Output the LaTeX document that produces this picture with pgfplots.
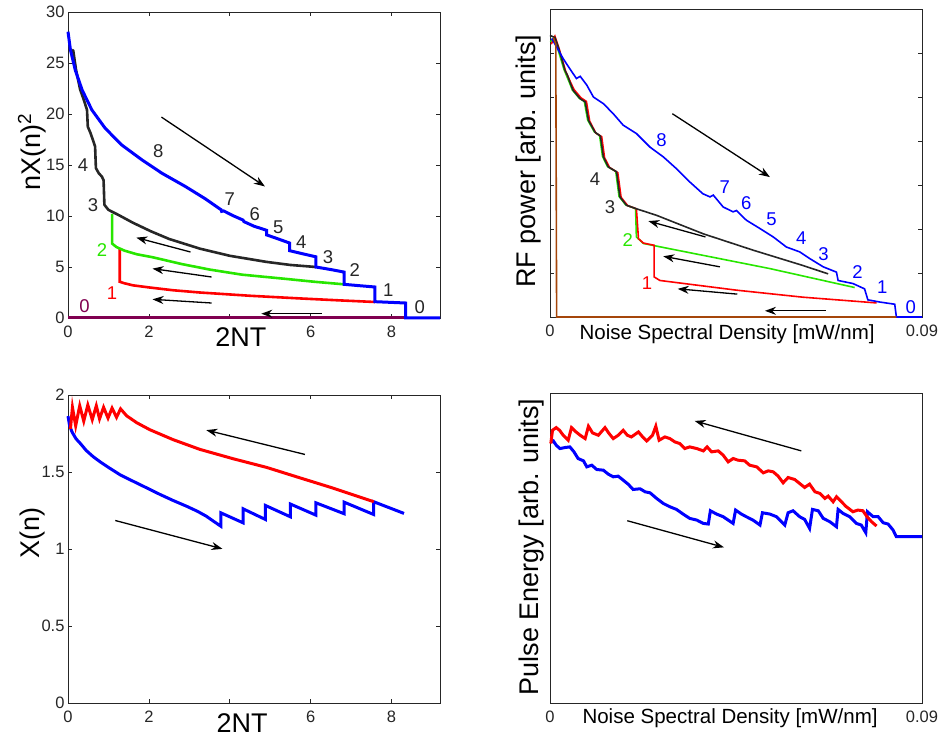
\documentclass[border=0pt]{standalone}
\usepackage{fontspec}
\setmainfont{Liberation Sans}
\usepackage{pgfplots}
\pgfplotsset{compat=1.18}
\usetikzlibrary{arrows.meta}

\definecolor{cBlue}{RGB}{0,0,255}
\definecolor{cRed}{RGB}{255,0,0}
\definecolor{cGreen}{RGB}{40,230,0}
\definecolor{cMaroon}{RGB}{128,0,80}
\definecolor{cBrown}{RGB}{165,70,10}

\newcommand{\lab}{\fontsize{27}{30}\selectfont}
\newcommand{\smlab}{\fontsize{20.5}{23}\selectfont}
\newcommand{\num}{\fontsize{18.5}{20}\selectfont}
\newcommand{\tck}{\fontsize{16.5}{18}\selectfont}

\pgfplotsset{
  panel/.style={
    scale only axis, width=372pt, anchor=south west,
    tick align=inside, major tick length=4pt,
    axis line style={line width=0.8pt, black!85},
    tick style={line width=0.6pt, black!85},
    ticklabel style={font=\tck, text=black!85},
    xticklabel style={yshift=-4pt},
    scaled x ticks=false, scaled y ticks=false,
    /pgf/number format/assume math mode=true,
    xlabel style={font=\lab, anchor=center},
    ylabel style={font=\lab, anchor=center},
    clip=false,
  },
}
\tikzset{arr/.style={-{Stealth[length=11pt,width=8pt]}, line width=1.3pt, black}}

\begin{document}
\begin{tikzpicture}
\path[use as bounding box] (0pt,0pt) rectangle (941pt,737pt);

% top left: nX(n)^2 against 2NT
\begin{axis}[panel, at={(68pt,419pt)}, height=306pt,
  xmin=0, xmax=9.2, ymin=0, ymax=30,
  xtick={0,2,4,6,8}, xticklabels={0,2,,6,8}, ytick={0,5,...,30},
  xlabel={2NT}, xlabel style={at={(axis description cs:0.465,-0.062)}},
  ylabel={nX(n)\textsuperscript{2}}, ylabel style={at={(axis description cs:-0.097,0.542)}}]
\addplot[cMaroon, line width=3pt] coordinates {(0,0) (8.35,0)};
\addplot[cRed, line width=2.6pt] coordinates {
  (1.28,6.8) (1.28,3.55) (1.4,3.4) (1.61,3.2) (2.0,3.0) (2.6,2.72) (3.26,2.5)
  (4.5,2.18) (5.73,1.92) (6.7,1.73) (7.59,1.57)};
\addplot[cGreen, line width=2.6pt] coordinates {
  (1.09,10.2) (1.09,7.3) (1.2,6.95) (1.4,6.6) (1.7,6.25) (2.1,5.95) (2.8,5.3)
  (3.5,4.75) (4.3,4.25) (5.32,3.86) (6.1,3.55) (6.83,3.3)};
\addplot[black!85, line width=2.6pt] coordinates {
  (0.10,26.3) (0.13,26.2) (0.2,24.3) (0.30,22.4) (0.39,21.4) (0.47,20.4) (0.49,18.75)
  (0.55,18.2) (0.63,17.3) (0.67,16.8) (0.69,14.7) (0.76,14.2) (0.84,13.85) (0.88,13.5)
  (0.90,11.1) (1.0,10.6) (1.25,10.1) (1.6,9.35) (2.05,8.5) (2.5,7.75) (3.26,6.8)
  (4.0,6.1) (4.91,5.5) (5.5,5.2) (6.13,5.0)};
\addplot[cBlue, line width=3pt] coordinates {
  (0,28.07) (0.06,26.3) (0.18,24.3) (0.35,22.35) (0.59,20.4) (0.92,18.6) (1.33,16.96)
  (1.83,15.5) (2.32,14.2) (2.9,12.9) (3.39,11.7) (3.79,10.6) (3.8,10.45) (3.85,10.5)
  (4.1,10.0) (4.33,9.6) (4.35,9.45) (4.6,9.0) (4.91,8.6) (4.91,8.15) (5.2,7.75)
  (5.48,7.35) (5.48,6.6) (5.8,6.3) (6.13,6.0) (6.13,5.0) (6.5,4.75) (6.83,4.5)
  (6.83,3.3) (7.2,3.17) (7.59,3.04) (7.59,1.6) (8.0,1.53) (8.35,1.47) (8.35,0) (9.2,0)};
\begin{scope}[every node/.style={font=\num, text=black!85}]
\node at (2.23,16.4) {8};
\node at (4.0,11.7) {7};
\node at (4.62,10.2) {6};
\node at (5.2,8.9) {5};
\node at (5.77,7.45) {4};
\node at (6.43,6.0) {3};
\node at (7.09,4.67) {2};
\node at (7.92,2.78) {1};
\node at (8.7,1.08) {0};
\node at (0.37,15.0) {4};
\node at (0.62,11.05) {3};
\node[text=cGreen] at (0.84,6.7) {2};
\node[text=cRed] at (1.09,2.39) {1};
\node[text=cMaroon] at (0.41,1.15) {0};
\end{scope}
\draw[arr] (2.31,19.7) -- (4.87,12.9);
\draw[arr] (3.03,6.47) -- (1.69,7.88);
\draw[arr] (3.55,4.02) -- (2.09,4.84);
\draw[arr] (3.55,1.47) -- (2.09,1.83);
\draw[arr] (6.27,0.42) -- (4.78,0.42);
\end{axis}

% top right: RF power against noise spectral density
\begin{axis}[panel, at={(550pt,420pt)}, height=308pt,
  xmin=0, xmax=0.09, ymin=0, ymax=7,
  xtick={0,0.09}, xticklabels={0,0.09}, ytick={1,2,3,4,5,6}, yticklabels={,,,,,},
  xlabel={Noise Spectral Density [mW/nm]},
  xlabel style={font=\smlab, at={(axis description cs:0.476,-0.055)}},
  ylabel={RF power [arb. units]}, ylabel style={at={(axis description cs:-0.059,0.506)}}]
\addplot[cGreen, line width=1.6pt] coordinates {
  (0.0001,6.25) (0.0010,6.36) (0.0018,6.12) (0.0034,5.62) (0.0046,5.35) (0.0054,5.16)
  (0.0071,4.97) (0.0083,4.90) (0.0091,4.48) (0.0107,4.21) (0.0120,4.12) (0.0127,3.65)
  (0.0139,3.42) (0.0159,3.31) (0.0167,2.74) (0.0183,2.55) (0.0207,2.46)
  (0.0209,1.82) (0.0226,1.67) (0.0371,1.40) (0.0532,1.10) (0.0737,0.67)};
\addplot[cRed, line width=1.6pt] coordinates {
  (0.0003,6.2) (0.0012,6.38) (0.0022,6.1) (0.0038,5.58) (0.0050,5.33) (0.0058,5.17)
  (0.0075,4.98) (0.0088,4.90) (0.0096,4.45) (0.0111,4.18) (0.0125,4.10) (0.0132,3.62)
  (0.0144,3.40) (0.0164,3.28) (0.0172,2.72) (0.0188,2.53) (0.0209,2.46)
  (0.0214,1.78) (0.0226,1.68) (0.0252,1.63) (0.0252,0.91) (0.0266,0.83)
  (0.0451,0.61) (0.0612,0.45) (0.0790,0.32)};
\addplot[black!85, line width=1.6pt] coordinates {
  (0,6.40) (0.0012,6.35) (0.0020,6.14) (0.0036,5.61) (0.0042,5.50) (0.0048,5.34)
  (0.0056,5.15) (0.0073,4.96) (0.0085,4.89) (0.0093,4.47) (0.0109,4.20) (0.0122,4.11)
  (0.0129,3.64) (0.0141,3.41) (0.0161,3.30) (0.0169,2.73) (0.0185,2.54) (0.0209,2.46)
  (0.0258,2.31) (0.0371,1.89) (0.0491,1.52) (0.0612,1.17) (0.0673,0.98)};
\addplot[cBlue, line width=1.6pt] coordinates {
  (0.0004,6.33) (0.0016,6.14) (0.0032,5.87) (0.0048,5.64) (0.0064,5.42) (0.0073,5.47)
  (0.0089,5.27) (0.0105,5.00) (0.0129,4.85) (0.0153,4.62) (0.0177,4.36) (0.0209,4.17)
  (0.0242,3.86) (0.0274,3.64) (0.0306,3.37) (0.0338,3.07) (0.0370,2.80) (0.0387,2.73)
  (0.0395,2.77) (0.0419,2.50) (0.0443,2.39) (0.0451,2.42) (0.0475,2.20) (0.0508,2.01)
  (0.0540,1.82) (0.0572,1.59) (0.0604,1.48) (0.0628,1.33) (0.0661,1.14) (0.0693,1.02)
  (0.0697,0.83) (0.0733,0.76) (0.0761,0.64) (0.0769,0.39) (0.0798,0.34) (0.0834,0.29)
  (0.0838,0) (0.09,0)};
\addplot[cBrown, line width=1.6pt] coordinates {
  (0.0008,6.35) (0.0014,6.2) (0.0016,0) (0.0838,0)};
\begin{scope}[every node/.style={font=\num, text=cBlue}]
\node at (0.0270,4.02) {8};
\node at (0.0423,2.95) {7};
\node at (0.0475,2.58) {6};
\node at (0.0536,2.23) {5};
\node at (0.0608,1.80) {4};
\node at (0.0662,1.44) {3};
\node at (0.0744,1.02) {2};
\node at (0.0804,0.67) {1};
\node at (0.0873,0.23) {0};
\node[text=black!85] at (0.0109,3.13) {4};
\node[text=black!85] at (0.0145,2.50) {3};
\node[text=cGreen] at (0.0188,1.74) {2};
\node[text=cRed] at (0.0235,0.77) {1};
\end{scope}
\draw[arr] (0.0296,4.62) -- (0.0532,3.18);
\draw[arr] (0.0376,1.82) -- (0.0238,2.18);
\draw[arr] (0.0411,1.14) -- (0.0274,1.38);
\draw[arr] (0.0453,0.52) -- (0.0309,0.64);
\draw[arr] (0.0667,0.14) -- (0.0520,0.14);
\end{axis}

% bottom left: X(n) against 2NT
\begin{axis}[panel, at={(68pt,34pt)}, height=308pt,
  xmin=0, xmax=9.2, ymin=0, ymax=2,
  xtick={0,2,4,6,8}, xticklabels={0,2,,6,8}, ytick={0,0.5,1,1.5,2},
  yticklabel style={/pgf/number format/fixed},
  xlabel={2NT}, xlabel style={at={(axis description cs:0.468,-0.065)}},
  ylabel={X(n)}, ylabel style={at={(axis description cs:-0.096,0.552)}}]
\addplot[cBlue, line width=3pt] coordinates {
  (0,1.863) (0.04,1.80) (0.1,1.76) (0.2,1.715) (0.29,1.69) (0.45,1.64) (0.62,1.60)
  (0.8,1.565) (1.03,1.525) (1.3,1.48) (1.61,1.44) (2.0,1.39) (2.27,1.355) (2.6,1.315)
  (2.93,1.278) (3.2,1.245) (3.42,1.213) (3.6,1.18) (3.78,1.148) (3.78,1.235)
  (4.33,1.170) (4.33,1.261) (4.88,1.192) (4.88,1.283) (5.50,1.209) (5.50,1.292)
  (6.13,1.22) (6.13,1.30) (6.83,1.229) (6.83,1.304) (7.56,1.224) (7.56,1.307)
  (8.31,1.231)};
\addplot[cRed, line width=3pt] coordinates {
  (0.06,1.78) (0.11,1.92) (0.19,1.80) (0.29,1.93) (0.39,1.83) (0.49,1.935) (0.60,1.84)
  (0.70,1.93) (0.78,1.845) (0.88,1.92) (0.99,1.85) (1.09,1.915) (1.20,1.855)
  (1.30,1.91) (1.45,1.865) (1.7,1.82) (2.02,1.775) (2.6,1.71) (3.26,1.647) (4.1,1.585)
  (4.91,1.53) (5.7,1.465) (6.56,1.395) (7.56,1.307)};
\draw[arr] (5.86,1.614) -- (3.42,1.772);
\draw[arr] (1.17,1.185) -- (3.82,1.001);
\end{axis}

% bottom right: pulse energy against noise spectral density
\begin{axis}[panel, at={(550pt,34pt)}, height=310pt,
  xmin=0, xmax=0.09, ymin=0, ymax=9.32,
  xtick={0,0.09}, xticklabels={0,0.09}, ytick=\empty,
  xlabel={Noise Spectral Density [mW/nm]},
  xlabel style={font=\smlab, at={(axis description cs:0.484,-0.049)}},
  ylabel={Pulse Energy [arb. units]}, ylabel style={at={(axis description cs:-0.051,0.503)}}]
\addplot[cBlue, line width=3pt] coordinates {
  (0.0002,7.85) (0.0008,7.88) (0.0015,7.75) (0.0024,7.65) (0.0036,7.68) (0.0048,7.70)
  (0.0058,7.55) (0.0068,7.35) (0.0081,7.28) (0.0089,7.10) (0.0101,7.15) (0.0113,7.02)
  (0.0129,7.00) (0.0141,6.88) (0.0153,6.80) (0.0165,6.82) (0.0177,6.70) (0.0189,6.58)
  (0.0201,6.42) (0.0218,6.44) (0.0230,6.35) (0.0242,6.32) (0.0258,6.15) (0.0274,6.00)
  (0.0290,5.90) (0.0306,5.82) (0.0322,5.68) (0.0338,5.55) (0.0355,5.50) (0.0371,5.40)
  (0.0383,5.38) (0.0388,5.78) (0.0403,5.68) (0.0419,5.60) (0.0431,5.50) (0.0443,5.40)
  (0.0449,5.80) (0.0463,5.68) (0.0475,5.60) (0.0491,5.50) (0.0508,5.35) (0.0514,5.72)
  (0.0532,5.68) (0.0548,5.60) (0.0560,5.45) (0.0568,5.35) (0.0576,5.72) (0.0588,5.78)
  (0.0604,5.60) (0.0616,5.52) (0.0628,5.25) (0.0635,5.82) (0.0649,5.78) (0.0661,5.55)
  (0.0677,5.45) (0.0693,5.30) (0.0697,5.82) (0.0709,5.70) (0.0725,5.60) (0.0741,5.40)
  (0.0753,5.35) (0.0764,5.12) (0.0768,5.75) (0.0782,5.60) (0.0794,5.60) (0.0806,5.42)
  (0.0818,5.38) (0.0830,5.20) (0.0838,5.00) (0.0900,5.00)};
\addplot[cRed, line width=3pt] coordinates {
  (0.0002,7.80) (0.0006,8.20) (0.0015,8.28) (0.0023,8.20) (0.0032,8.05) (0.0044,7.90)
  (0.0052,8.28) (0.0063,8.15) (0.0073,8.05) (0.0085,7.95) (0.0093,8.32) (0.0103,8.12)
  (0.0117,8.05) (0.0133,8.28) (0.0143,8.10) (0.0153,7.95) (0.0165,8.05) (0.0177,8.20)
  (0.0187,8.05) (0.0197,8.00) (0.0214,8.15) (0.0224,8.00) (0.0234,7.88) (0.0248,8.05)
  (0.0256,8.32) (0.0264,7.90) (0.0278,8.00) (0.0290,7.95) (0.0302,7.85) (0.0314,7.80)
  (0.0326,7.65) (0.0338,7.70) (0.0355,7.65) (0.0371,7.58) (0.0380,7.70) (0.0391,7.55)
  (0.0407,7.58) (0.0419,7.45) (0.0431,7.25) (0.0443,7.35) (0.0455,7.30) (0.0471,7.28)
  (0.0483,7.15) (0.0500,7.10) (0.0516,6.92) (0.0528,6.98) (0.0540,6.95) (0.0552,6.82)
  (0.0564,6.62) (0.0576,6.78) (0.0592,6.72) (0.0604,6.60) (0.0616,6.48) (0.0628,6.58)
  (0.0641,6.35) (0.0653,6.30) (0.0665,6.15) (0.0673,6.22) (0.0685,6.05) (0.0693,6.20)
  (0.0705,6.05) (0.0717,5.90) (0.0733,5.75) (0.0745,5.80) (0.0757,5.78) (0.0767,5.60)
  (0.0778,5.45) (0.0790,5.32)};
\draw[arr] (0.0608,7.58) -- (0.0350,8.48);
\draw[arr] (0.0187,5.48) -- (0.0421,4.68);
\end{axis}
\end{tikzpicture}
\end{document}
